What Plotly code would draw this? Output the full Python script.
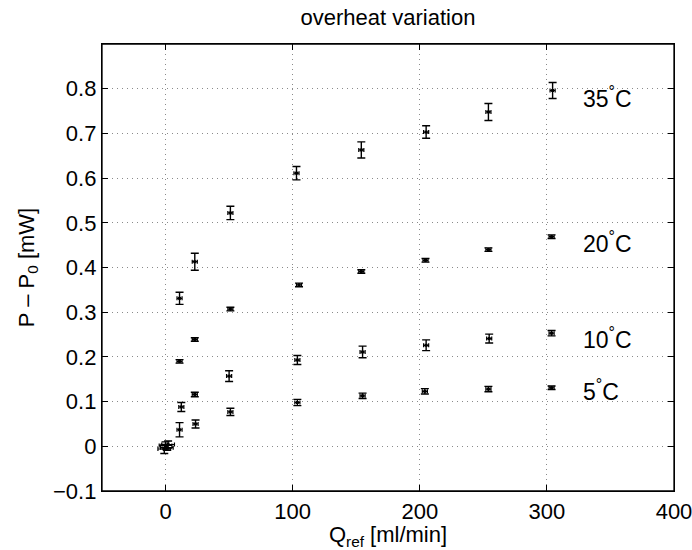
import plotly.graph_objects as go

# ---- data ----
q_35 = [0, 11, 23, 51, 103, 154, 205, 254, 304.5]
p_35 = [0.002, 0.331, 0.413, 0.522, 0.611, 0.663, 0.703, 0.748, 0.796]
e_35 = [0.008, 0.0135, 0.019, 0.015, 0.015, 0.018, 0.014, 0.019, 0.018]

q_20 = [1, 11, 23, 51, 105, 154, 204.5, 254, 303.7]
p_20 = [-0.003, 0.190, 0.239, 0.307, 0.361, 0.391, 0.416, 0.440, 0.469]
e_20 = [0.006, 0.004, 0.004, 0.004, 0.004, 0.004, 0.004, 0.004, 0.004]

q_10 = [2, 12.4, 23, 50, 103.7, 155, 205, 254.6, 303.7]
p_10 = [0.004, 0.088, 0.116, 0.157, 0.193, 0.211, 0.226, 0.241, 0.253]
e_10 = [0.008, 0.010, 0.005, 0.012, 0.010, 0.013, 0.012, 0.010, 0.006]

q_5 = [-1, 11, 23.6, 51, 103.7, 155, 204, 254, 303.7]
p_5 = [-0.006, 0.037, 0.050, 0.077, 0.098, 0.113, 0.123, 0.128, 0.131]
e_5 = [0.010, 0.016, 0.009, 0.008, 0.007, 0.006, 0.006, 0.006, 0.004]

q_err = [5, 2, 2, 2, 2, 2, 2, 2, 2]

series_labels = ["35<sup>°</sup>C", "20<sup>°</sup>C", "10<sup>°</sup>C", "5<sup>°</sup>C"]
label_y = [0.782, 0.457, 0.242, 0.126]
label_x = 327

x_ticks = [0, 100, 200, 300, 400]
y_ticks = [-0.1, 0, 0.1, 0.2, 0.3, 0.4, 0.5, 0.6, 0.7, 0.8]
y_ticktext = ["\u22120.1", "0", "0.1", "0.2", "0.3", "0.4", "0.5", "0.6", "0.7", "0.8"]

FONT = "Liberation Sans, Arial, Helvetica, sans-serif"

fig = go.Figure()
for q, p, e in [(q_35, p_35, e_35), (q_20, p_20, e_20), (q_10, p_10, e_10), (q_5, p_5, e_5)]:
    fig.add_trace(go.Scatter(
        x=q, y=p, mode="markers",
        marker=dict(symbol="square", size=3, color="black"),
        error_y=dict(type="data", array=e, visible=True, color="black", thickness=1.4, width=4),
        error_x=dict(type="data", array=q_err, visible=True, color="black", thickness=1.2, width=2),
        showlegend=False,
        cliponaxis=False,
    ))

for txt, yy in zip(series_labels, label_y):
    fig.add_annotation(x=label_x, y=yy, text=txt, showarrow=False,
                       xanchor="left", yanchor="middle",
                       font=dict(family=FONT, size=23, color="black"))

axis_common = dict(
    showline=True, linecolor="black", linewidth=1.3, mirror="ticks",
    ticks="inside", ticklen=6, tickcolor="black", tickwidth=1.3,
    showgrid=True, gridcolor="#8a8a8a", griddash="1px,4px", gridwidth=1,
    zeroline=False, ticklabeloverflow="allow", automargin=False,
    tickfont=dict(family=FONT, size=22, color="black"),
)

# plot frame (box around the axes)
fig.add_shape(type="rect", xref="paper", yref="paper", x0=0, x1=1, y0=0, y1=1,
              line=dict(color="black", width=1.3), fillcolor="rgba(0,0,0,0)", layer="above")

fig.update_layout(
    width=692, height=550,
    margin=dict(l=102, r=18, t=44, b=59),
    paper_bgcolor="white", plot_bgcolor="white",
    title=dict(text="overheat variation", x=(102 + 674) / 2 / 692, xanchor="center",
               y=1 - 17 / 550, yanchor="middle",
               font=dict(family=FONT, size=22, color="black")),
    xaxis=dict(range=[-50, 400], tickvals=x_ticks,
               title=dict(text="Q<sub>ref</sub> [ml/min]", standoff=2,
                          font=dict(family=FONT, size=22, color="black")),
               **axis_common),
    yaxis=dict(range=[-0.1, 0.9], tickvals=y_ticks, ticktext=y_ticktext,
               title=dict(text="P \u2013 P<sub>0</sub> [mW]", standoff=12,
                          font=dict(family=FONT, size=22, color="black")),
               **axis_common),
)

fig.write_html(
    "out.html",
    post_script="document.documentElement.style.overflow='hidden';"
                "document.documentElement.style.scrollbarWidth='none';"
                "document.body.style.overflow='hidden';document.body.style.margin='0';",
)
